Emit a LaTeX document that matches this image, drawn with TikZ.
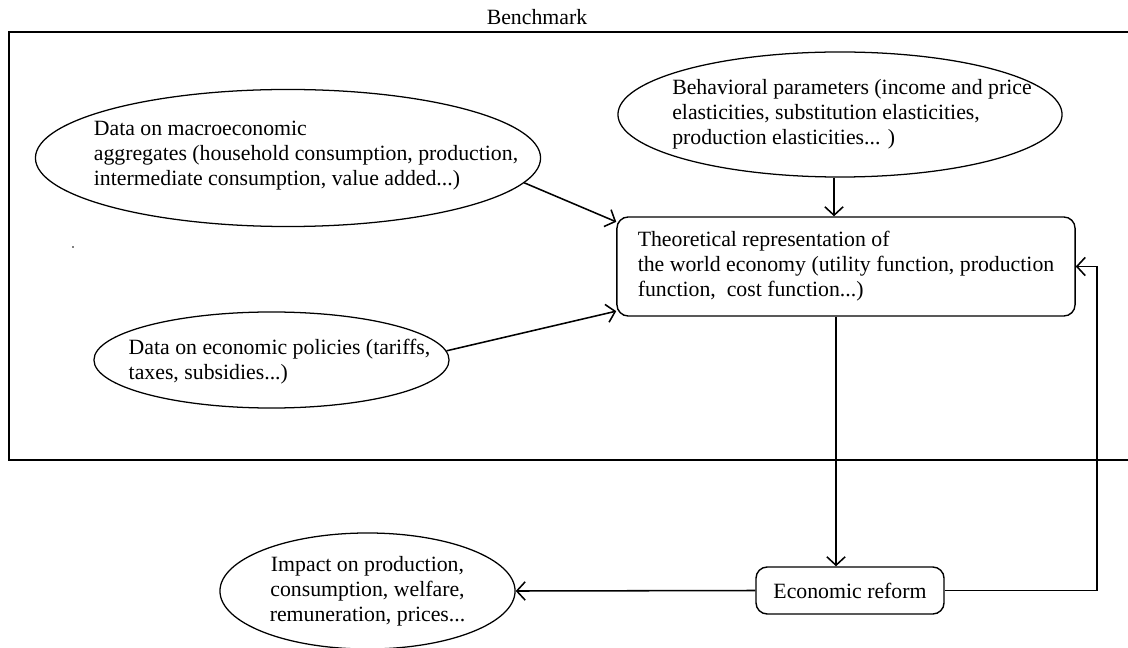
\documentclass[tikz,border=0pt]{standalone}
\usepackage{fontspec}
\setmainfont{Liberation Serif}
\usetikzlibrary{shapes.geometric,arrows.meta}

\begin{document}
\begin{tikzpicture}[
    x=0.025cm, y=-0.025cm,
    txt/.style={font=\fontsize{15.5}{17.8}\selectfont, align=left},
    datanode/.style={draw, line width=0.9pt, ellipse, inner sep=0pt},
    box/.style={draw, line width=1pt, rounded corners=8pt, align=left, font=\fontsize{15.5}{17.8}\selectfont},
    arrow/.style={-{Straight Barb[length=6pt, width=13pt]}, line width=1.1pt}
]
    \useasboundingbox (0,0) rectangle (1128,648);

    % benchmark frame, open on the right
    \node[txt] (benchmark) at (537,17) {Benchmark};
    \draw[line width=1pt] (1128,32) -- (9,32) -- (9,460) -- (1128,460);
    \fill (73,247) circle (0.6pt);

    \node[datanode, minimum width=12.625cm, minimum height=3.425cm,
          label={[txt, xshift=0.45cm, yshift=0.05cm]center:{Data on macroeconomic\\aggregates (household consumption, production,\\intermediate consumption, value added...)}}]
          (macro) at (288,158) {};
    \node[datanode, minimum width=11.1cm, minimum height=3.125cm,
          label={[txt, xshift=0.3cm]center:{Behavioral parameters (income and price\\elasticities, substitution elasticities,\\production elasticities... )}}]
          (behav) at (840,114.5) {};
    \node[datanode, minimum width=8.875cm, minimum height=2.4cm,
          label={[txt, xshift=0.2cm, yshift=-0.05cm]center:{Data on economic policies (tariffs,\\taxes, subsidies...)}}]
          (policy) at (271.5,360) {};
    \node[datanode, minimum width=7.375cm, minimum height=2.9cm,
          label={[txt, align=center]center:{Impact on production,\\consumption, welfare,\\remuneration, prices...}}]
          (impact) at (367.5,591) {};

    \node[box, minimum width=11.45cm, minimum height=2.475cm] (theory) at (846,266.5)
        {Theoretical representation of\\the world economy (utility function, production\\function,\ \ cost function...)};
    \node[box, minimum width=4.7cm, minimum height=1.175cm] (reform) at (850,590.5) {Economic reform};

    \draw[arrow] (macro.-6) -- (theory.169);
    \draw[arrow] (policy.3) -- (theory.191);
    \draw[arrow] ([xshift=-0.15cm]behav.south) -- ([xshift=-0.15cm]behav.south |- theory.north);
    \draw[arrow] ([xshift=-0.25cm]theory.south) -- ([xshift=-0.25cm]theory.south |- reform.north);
    \draw[arrow] (reform.east) -- ++(152,0) |- (theory.east);
    \draw[arrow] (reform.west) -- (impact.east);
\end{tikzpicture}
\end{document}
